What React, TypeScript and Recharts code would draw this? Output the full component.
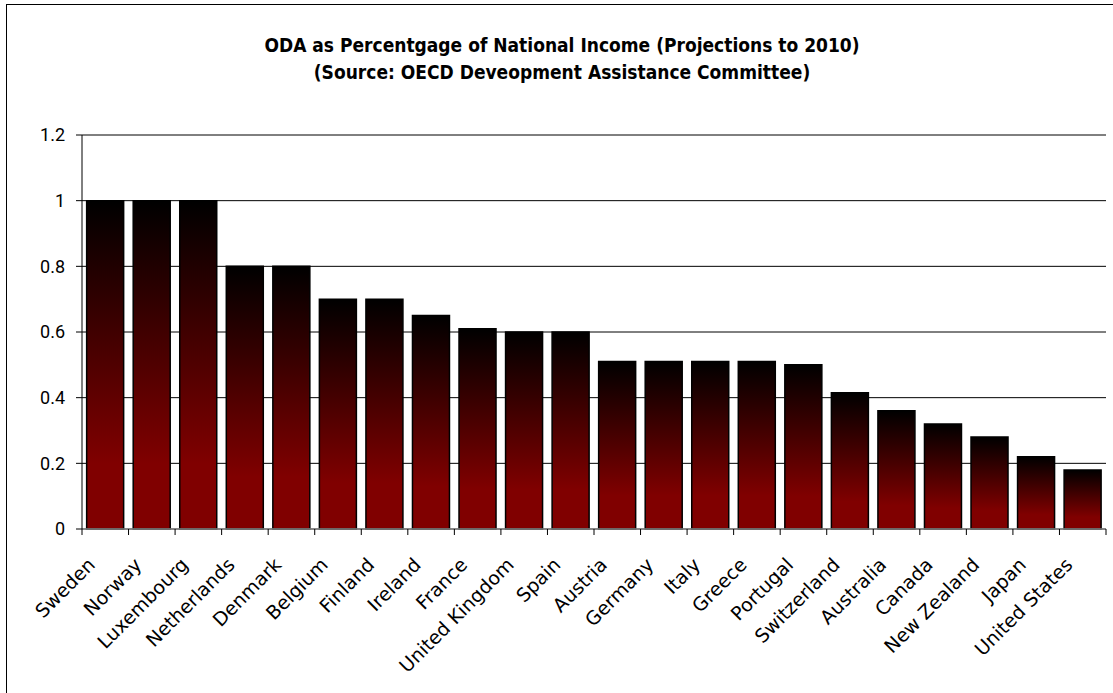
import { BarChart, Bar, XAxis, YAxis, CartesianGrid } from 'recharts';

const countries = [
  'Sweden', 'Norway', 'Luxembourg', 'Netherlands', 'Denmark', 'Belgium', 'Finland',
  'Ireland', 'France', 'United Kingdom', 'Spain', 'Austria', 'Germany', 'Italy',
  'Greece', 'Portugal', 'Switzerland', 'Australia', 'Canada', 'New Zealand', 'Japan',
  'United States',
];
const odaPct = [
  1, 1, 1, 0.8, 0.8, 0.7, 0.7,
  0.65, 0.61, 0.6, 0.6, 0.51, 0.51, 0.51,
  0.51, 0.5, 0.415, 0.36, 0.32, 0.28, 0.22,
  0.18,
];
const yTicks = [0, 0.2, 0.4, 0.6, 0.8, 1, 1.2];

const data = countries.map((name, i) => ({ name, value: odaPct[i] }));

const W = 1113;
const H = 693;
const M = { top: 135, right: 7, bottom: 134, left: 0 };
const Y_W = 82;
const plotW = W - M.left - M.right - Y_W;
const band = plotW / countries.length;

function CountryTick(props: any) {
  const { x, y, payload, index } = props;
  const left = x - band / 2;
  const right = x + band / 2;
  const tx = x - 9;
  const ty = y + 37;
  return (
    <g>
      <line x1={left} y1={y} x2={left} y2={y + 6} stroke="#000" strokeWidth={1} />
      {index === countries.length - 1 && (
        <line x1={right} y1={y} x2={right} y2={y + 6} stroke="#000" strokeWidth={1} />
      )}
      <text
        x={tx}
        y={ty}
        textAnchor="end"
        transform={`rotate(-45, ${tx}, ${ty})`}
        fontFamily="DejaVu Sans, Verdana, sans-serif"
        fontSize={19}
        fill="#000"
      >
        {payload.value}
      </text>
    </g>
  );
}

export default function App() {
  return (
    <div style={{ position: 'absolute', left: 0, top: 0, width: W, height: H, background: '#fff' }}>
      <div
        style={{
          position: 'absolute',
          left: 6,
          top: 4,
          width: W,
          height: H,
          borderLeft: '1.5px solid #000',
          borderTop: '1.5px solid #000',
        }}
      />
      <div
        style={{
          position: 'absolute',
          left: 0,
          top: 32,
          width: 1124,
          textAlign: 'center',
          fontFamily: '"DejaVu Sans Condensed", "DejaVu Sans", sans-serif',
          fontWeight: 'bold',
          fontSize: 19,
          lineHeight: '27px',
          color: '#000',
        }}
      >
        ODA as Percentgage of National Income (Projections to 2010)
        <br />
        (Source: OECD Deveopment Assistance Committee)
      </div>
      <BarChart width={W} height={H} data={data} margin={M} barCategoryGap="10%">
        <defs>
          <linearGradient id="odaGrad" x1="0" y1="0" x2="0" y2="1">
            <stop offset="0%" stopColor="#000000" />
            <stop offset="80%" stopColor="#800000" />
            <stop offset="100%" stopColor="#800000" />
          </linearGradient>
        </defs>
        <CartesianGrid vertical={false} stroke="#000" strokeWidth={1} />
        <XAxis
          dataKey="name"
          interval={0}
          tickLine={false}
          tickSize={0}
          tickMargin={0}
          axisLine={{ stroke: '#888', strokeWidth: 1.5 }}
          tick={<CountryTick />}
        />
        <YAxis
          width={Y_W}
          domain={[0, 1.2]}
          ticks={yTicks}
          interval={0}
          tickSize={6}
          tickMargin={11}
          axisLine={{ stroke: '#000' }}
          tickLine={{ stroke: '#000' }}
          tick={{ fill: '#000', fontSize: 18, fontFamily: 'Roboto, sans-serif' }}
        />
        <Bar
          dataKey="value"
          fill="url(#odaGrad)"
          stroke="#000"
          strokeWidth={1.5}
          isAnimationActive={false}
        />
      </BarChart>
    </div>
  );
}
